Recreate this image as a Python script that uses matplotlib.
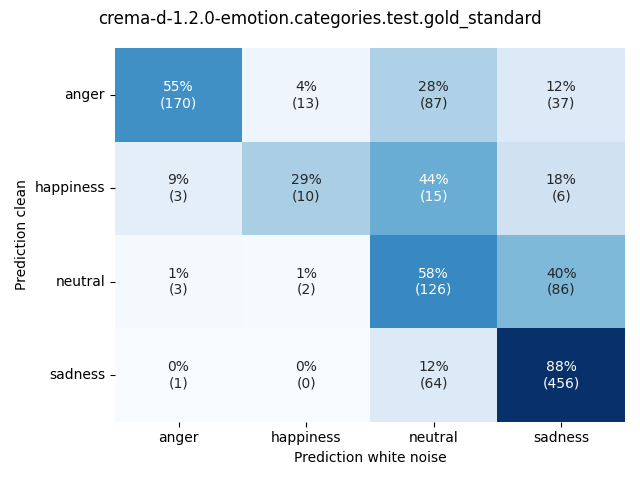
import numpy as np
import matplotlib
matplotlib.use("Agg")
import matplotlib.pyplot as plt
import seaborn as sns

labels = ["anger", "happiness", "neutral", "sadness"]
counts = np.array([
    [170, 13, 87, 37],
    [3, 10, 15, 6],
    [3, 2, 126, 86],
    [1, 0, 64, 456],
])

pct = counts / counts.sum(axis=1, keepdims=True) * 100
annot = np.array([[f"{p:.0f}%\n({c})" for p, c in zip(prow, crow)]
                  for prow, crow in zip(pct, counts)])

fig, ax = plt.subplots(figsize=(6.4, 4.8), dpi=100)
sns.heatmap(pct, annot=annot, fmt="", cmap="Blues", cbar=False,
            xticklabels=labels, yticklabels=labels, ax=ax)
ax.set_xlabel("Prediction white noise")
ax.set_ylabel("Prediction clean")
ax.tick_params(axis="y", rotation=0)
fig.suptitle("crema-d-1.2.0-emotion.categories.test.gold_standard")
fig.tight_layout()
fig.savefig("out.png", dpi=100)
